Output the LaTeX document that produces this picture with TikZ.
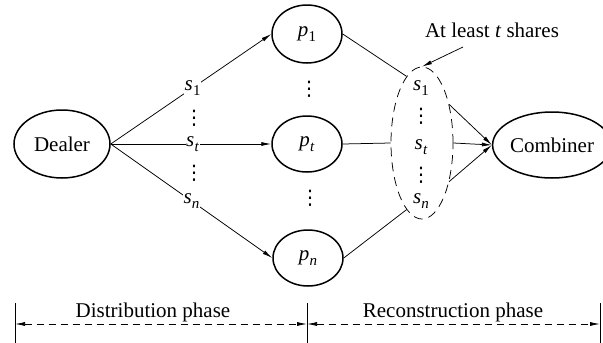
\documentclass[tikz,border=0pt]{standalone}
\usepackage{fontspec}
\setmainfont{Liberation Serif}
\newfontfamily\symfont{DejaVu Sans}
\usetikzlibrary{arrows.meta,shapes.geometric}
\newcommand\subv[2]{\textit{#1}\kern0.3pt\raisebox{-0.5ex}{\fontsize{15}{15}\selectfont #2}}
\tikzset{
  txt/.style={font=\fontsize{21}{24}\selectfont, inner sep=1pt},
  party/.style={ellipse, draw, line width=1.5pt, inner sep=0pt, font=\fontsize{21}{24}\selectfont},
  conn/.style={line width=0.75pt},
  arr/.style={conn, -{Latex[length=10pt,width=4pt]}},
  lbl/.style={txt, fill=white, inner sep=0.5pt},
  vd/.style={font=\symfont\fontsize{20}{20}\selectfont, inner sep=0pt},
  phase/.style={line width=0.75pt, dash pattern=on 7pt off 5pt},
  bar/.style={line width=1pt}
}
\begin{document}
\begin{tikzpicture}[x=1pt,y=-1pt]
\useasboundingbox (0,0) rectangle (603,343);
% parties
\node[party, minimum width=96pt, minimum height=68pt] (dealer) at (62,144) {Dealer};
\node[party, minimum width=70pt, minimum height=58pt] (p1) at (307,34) {\subv{p}{1}};
\node[party, minimum width=70pt, minimum height=56pt] (pt) at (307,144) {\subv{p}{\textit{t}}};
\node[party, minimum width=70pt, minimum height=56pt] (pn) at (308,258) {\subv{p}{\textit{n}}};
\node[party, minimum width=96pt, minimum height=66pt] (comb) at (552,145) {Combiner};
\node[vd] (dp1) at (309,89) {⋮};
\node[vd] (dp2) at (310,198) {⋮};
% shares set
\node[ellipse, draw, line width=0.75pt, dash pattern=on 9pt off 6pt, minimum width=62pt, minimum height=152pt, inner sep=0pt] (sh) at (422,143) {};
\node[txt] (ss1) at (421,88) {\subv{s}{1}};
\node[vd] (sd1) at (421,116) {⋮};
\node[txt] (sst) at (421,147) {\subv{s}{\textit{t}}};
\node[vd] (sd2) at (421,175) {⋮};
\node[txt] (ssn) at (421,201) {\subv{s}{\textit{n}}};
% distribution
\draw[arr] (dealer.east) -- (p1.west) node[lbl, pos=0.51] (ls1) {\subv{s}{1}};
\draw[arr] (dealer.east) -- (pt.west) node[lbl, pos=0.51] (lst) {\subv{s}{\textit{t}}};
\draw[arr] (dealer.east) -- (pn.west) node[lbl, pos=0.5] (lsn) {\subv{s}{\textit{n}}};
\node[vd] (ld1) at (194,118) {⋮};
\node[vd] (ld2) at (194,173) {⋮};
% to shares set
\draw[conn] (p1.east) -- (sh.103);
\draw[conn] (pt.east) -- (sh.west);
\draw[conn] (pn.east) -- (sh.-103);
% to combiner
\draw[arr] (sh.55) -- (comb.west);
\draw[arr] (sh.east) -- (comb.west);
\draw[arr] (sh.-55) -- (comb.west);
% annotation
\node[txt] (atl) at (492,30) {At least \textit{t} shares};
\coordinate (atls) at (463,47);
\draw[arr] (atls) -- (sh.north);
% phases
\coordinate (b1t) at (15,303); \coordinate (b1b) at (15,343);
\coordinate (b2t) at (307,303); \coordinate (b2b) at (307,343);
\coordinate (b3t) at (600,303); \coordinate (b3b) at (600,343);
\draw[bar] (b1t) -- (b1b);
\draw[bar] (b2t) -- (b2b);
\draw[bar] (b3t) -- (b3b);
\coordinate (a1) at (15,324); \coordinate (a2) at (307,324); \coordinate (a3) at (600,324);
\draw[phase, {Latex[length=10pt,width=4pt]}-{Latex[length=10pt,width=4pt]}] (a1) -- (a2);
\draw[phase, {Latex[length=10pt,width=4pt]}-{Latex[length=10pt,width=4pt]}] (a2) -- (a3);
\node[txt] (dist) at (153,312) {Distribution phase};
\node[txt] (reco) at (453,312) {Reconstruction phase};
\end{tikzpicture}
\end{document}
